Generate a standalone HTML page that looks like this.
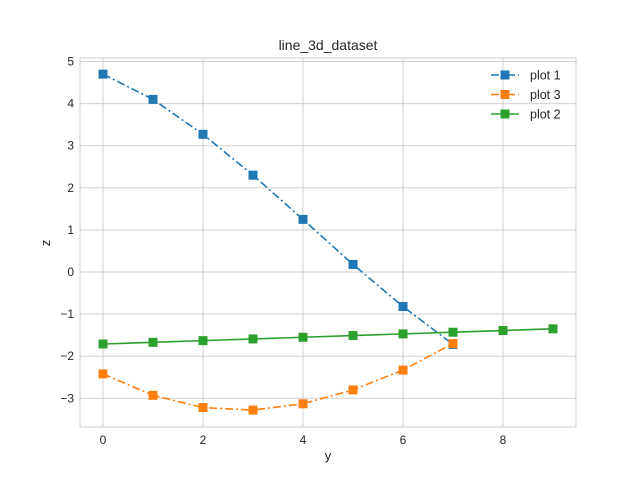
<!DOCTYPE html>
<html><head><meta charset="utf-8"><style>
body{margin:0;background:#fff;font-family:"Liberation Sans",sans-serif}
</style></head><body>
<svg id="c" width="640" height="480" xmlns="http://www.w3.org/2000/svg"></svg>
<script>
const xTicks=[0,2,4,6,8];
const yTicks=[-3,-2,-1,0,1,2,3,4,5];
const yTickLabels=["−3","−2","−1","0","1","2","3","4","5"];
const plot1=[4.7,4.1,3.27,2.3,1.25,0.18,-0.82,-1.72];
const plot3=[-2.42,-2.93,-3.22,-3.28,-3.13,-2.8,-2.33,-1.7];
const plot2=[-1.71,-1.67,-1.63,-1.59,-1.55,-1.51,-1.47,-1.43,-1.39,-1.35];
const L=80,R=576,T=58,B=427;
const X=v=>103+v*50, Y=v=>272-v*42.1;
const svg=document.getElementById('c');const NS='http://www.w3.org/2000/svg';
function mk(t,a,p){const e=document.createElementNS(NS,t);for(const k in a)e.setAttribute(k,a[k]);(p||svg).appendChild(e);return e;}
let g=mk('g',{});


xTicks.forEach(v=>{mk('line',{x1:X(v),x2:X(v),y1:T,y2:B,stroke:'#d0d0d0','stroke-width':1},g);
 const t=mk('text',{x:X(v),y:B+17,'text-anchor':'middle','font-size':12,fill:'#262626'});t.textContent=v;
 
 });
yTicks.forEach((v,i)=>{mk('line',{x1:L,x2:R,y1:Y(v),y2:Y(v),stroke:'#d0d0d0','stroke-width':1},g);
 const t=mk('text',{x:L-6,y:Y(v)+4,'text-anchor':'end','font-size':12,fill:'#262626'});t.textContent=yTickLabels[i];
 
 });
const fr=mk('rect',{x:L,y:T,width:R-L,height:B-T,fill:'none',stroke:'#ccc','stroke-width':1});


function series(data,color,dash,name){
 const s=mk('g',{});
 
 
 mk('polyline',{points:data.map((v,i)=>X(i)+','+Y(v)).join(' '),fill:'none',stroke:color,'stroke-width':1.6,'stroke-dasharray':dash||''},s);
 data.forEach((v,i)=>{const m=mk('rect',{x:X(i)-4.5,y:Y(v)-4.5,width:9,height:9,fill:color},s);
  
  });
}
series(plot1,'#1f77b4','8,3,2,3','series-plot-1');
series(plot3,'#ff7f0e','8,3,2,3','series-plot-3');
series(plot2,'#2ca02c','','series-plot-2');
function txt(x,y,s,size,name,extra){const t=mk('text',Object.assign({x:x,y:y,'font-size':size,fill:'#262626'},extra||{}));t.textContent=s;
 
 return t;}
txt(328,50,'line_3d_dataset',14,'chart-title',{'text-anchor':'middle'});
txt(328,460,'y',13,'x-axis-title',{'text-anchor':'middle'});
txt(50,243,'z',13,'y-axis-title',{'text-anchor':'middle',transform:'rotate(-90 50 243)'});
const lg=[['plot 1','#1f77b4','8,3,2,3'],['plot 3','#ff7f0e','8,3,2,3'],['plot 2','#2ca02c','']];
lg.forEach((e,i)=>{const y=75+i*19.5;const gg=mk('g',{});
 
 
 mk('line',{x1:491,x2:519,y1:y,y2:y,stroke:e[1],'stroke-width':1.6,'stroke-dasharray':e[2]},gg);
 mk('rect',{x:500.5,y:y-4.5,width:9,height:9,fill:e[1]},gg);
 const t=mk('text',{x:530,y:y+4.5,'font-size':12.5,fill:'#262626'},gg);t.textContent=e[0];});
</script>
</body></html>
